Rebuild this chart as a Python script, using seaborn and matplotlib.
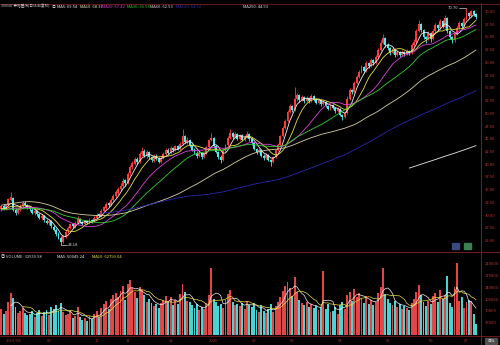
import numpy as np
import pandas as pd
import matplotlib
matplotlib.use("Agg")
import matplotlib.pyplot as plt
import matplotlib.transforms as mtrans
from matplotlib.lines import Line2D
from matplotlib.patches import Rectangle
import seaborn as sns

# ---------------- data ----------------
# closes before the visible window (only used for the moving averages)
hist_closes = [27.2, 26.8, 27.5, 27.9, 27.4, 26.9, 26.5, 27.1, 27.6, 28.2,
               27.8, 27.3, 26.9, 27.4, 28.0, 28.5, 28.1, 27.6, 27.2, 26.8,
               27.3, 27.9, 28.4, 28.0, 27.5, 27.1, 27.6, 28.2,
               29.5, 30.4, 31.2, 32.0, 32.9, 33.6, 34.4, 35.1, 35.8, 36.4,
               37.0, 37.5, 37.9, 38.2, 38.0, 37.6, 37.0, 36.3, 35.5, 34.7, 33.9,
               33.2, 32.6, 32.1, 31.7, 31.4, 31.2, 31.0, 30.8, 30.9, 31.1,
               30.8, 30.6, 30.9, 31.2, 31.0, 30.7, 30.9, 31.3, 31.1, 30.8,
               31.0, 31.4, 31.2, 30.9, 31.1, 31.5, 31.3, 31.0, 31.3]

opens = [31.2, 31.9, 31.3, 32.1, 33.0, 33.4, 31.1, 30.5, 31.1, 31.8,
         32.5, 32.0, 31.7, 31.1, 30.5, 30.9, 30.3, 29.5, 29.9, 29.0,
         28.5, 28.9, 27.8, 27.2, 26.3, 25.5, 24.9, 25.8, 26.9, 27.5,
         28.4, 27.8, 28.5, 29.3, 28.8, 28.3, 28.9, 28.5, 29.2, 28.8,
         29.6, 30.3, 30.0, 30.9, 31.5, 32.4, 32.0, 33.0, 33.8, 34.5,
         35.2, 35.8, 36.9, 36.4, 38.3, 39.5, 40.2, 41.2, 40.6, 42.0,
         42.7, 41.7, 42.5, 41.5, 40.8, 41.8, 41.2, 40.6, 41.4, 42.0,
         42.9, 42.3, 43.3, 42.8, 43.6, 43.1, 44.1, 45.7, 44.5, 44.8,
         43.8, 42.9, 42.3, 41.8, 42.3, 41.6, 42.2, 43.4, 44.9, 45.2,
         43.6, 42.5, 41.6, 41.0, 42.6, 43.8, 45.2, 46.3, 45.4, 46.0,
         45.1, 45.8, 44.9, 45.5, 46.1, 45.0, 44.2, 43.1, 42.4, 42.9,
         41.8, 41.3, 41.9, 41.0, 40.6, 41.5, 42.8, 43.9, 45.6, 47.3,
         48.6, 50.4, 51.5, 50.8, 52.9, 53.6, 52.8, 53.3, 52.5, 53.1,
         52.6, 53.4, 52.9, 52.2, 52.7, 51.9, 52.4, 51.6, 51.0, 51.7,
         51.2, 50.5, 50.9, 49.8, 49.3, 50.1, 53.0, 54.6, 54.2, 56.0,
         57.2, 58.3, 59.2, 58.5, 60.0, 59.4, 60.5, 60.0, 61.2, 62.6,
         64.0, 64.8, 63.6, 62.9, 62.0, 62.8, 61.6, 62.2, 61.5, 62.1,
         61.8, 62.4, 62.0, 63.5, 64.2, 66.3, 67.6, 66.5, 65.0, 64.6,
         65.9, 64.6, 66.3, 67.5, 66.8, 68.2, 67.1, 68.9, 66.2, 65.0,
         64.4, 65.6, 66.9, 67.8, 67.2, 68.6, 69.8, 69.2, 70.1, 69.6]

highs = [32.1, 32.2, 32.3, 33.5, 34.6, 33.6, 31.5, 31.5, 32.2, 32.9,
         32.8, 32.3, 31.9, 31.4, 31.2, 31.1, 30.5, 30.3, 30.1, 29.4,
         29.3, 29.1, 28.1, 27.5, 26.7, 25.9, 26.2, 27.1, 27.9, 28.6,
         28.6, 28.9, 30.0, 29.5, 29.0, 29.2, 29.1, 29.5, 29.4, 29.9,
         30.5, 30.6, 31.2, 31.9, 32.6, 32.7, 33.4, 34.2, 35.0, 35.6,
         36.3, 37.4, 37.2, 38.6, 40.0, 40.8, 41.6, 41.5, 42.4, 43.5,
         43.0, 42.8, 42.7, 41.8, 42.0, 42.1, 41.5, 41.7, 42.4, 43.3,
         43.2, 43.6, 43.5, 43.9, 43.8, 44.4, 47.0, 45.9, 45.4, 45.0,
         44.0, 43.2, 42.6, 42.6, 42.5, 42.5, 43.7, 45.1, 46.3, 45.4,
         43.8, 42.7, 41.9, 42.9, 44.1, 45.6, 47.0, 46.5, 46.4, 46.2,
         46.1, 46.0, 45.8, 46.6, 46.3, 45.2, 44.4, 43.3, 43.2, 43.1,
         42.0, 42.2, 42.1, 41.2, 41.8, 43.1, 44.2, 45.9, 47.6, 48.9,
         50.7, 51.9, 51.8, 55.3, 54.1, 53.9, 53.7, 53.5, 53.5, 53.3,
         53.8, 53.6, 53.1, 53.1, 52.9, 52.8, 52.6, 51.8, 52.0, 51.9,
         51.4, 51.3, 51.1, 50.0, 50.4, 53.4, 55.0, 54.9, 56.4, 57.6,
         58.7, 59.6, 59.4, 60.4, 60.2, 60.9, 60.7, 61.6, 63.0, 64.5,
         65.6, 65.0, 63.9, 63.1, 63.2, 63.0, 62.6, 62.4, 62.5, 62.3,
         62.8, 62.6, 63.9, 64.6, 66.7, 68.4, 67.9, 66.7, 65.2, 66.3,
         66.0, 66.7, 67.9, 67.7, 68.6, 68.4, 69.4, 69.1, 66.4, 65.2,
         65.9, 67.2, 68.2, 68.0, 69.0, 70.7, 70.0, 70.4, 70.3, 69.8]

lows = [30.9, 31.1, 31.1, 31.9, 32.8, 30.8, 30.2, 30.3, 30.9, 31.6,
        31.8, 31.3, 30.9, 30.3, 30.2, 30.0, 29.3, 29.2, 28.8, 28.3,
        28.2, 27.6, 26.9, 26.0, 25.3, 24.18, 24.7, 25.6, 26.6, 27.3,
        27.6, 27.6, 28.3, 28.5, 28.1, 28.1, 28.3, 28.3, 28.6, 28.7,
        29.4, 29.7, 29.8, 30.7, 31.3, 31.7, 31.8, 32.8, 33.5, 34.2,
        34.9, 35.6, 35.9, 36.2, 38.0, 39.2, 39.9, 40.1, 40.3, 41.7,
        41.5, 41.4, 41.2, 40.5, 40.6, 40.9, 40.3, 40.4, 41.1, 41.8,
        42.0, 42.1, 42.5, 42.6, 42.8, 42.9, 43.9, 44.2, 44.1, 43.5,
        42.6, 42.0, 41.4, 41.5, 41.2, 41.3, 42.0, 43.2, 44.6, 43.3,
        42.2, 41.2, 40.4, 40.8, 42.4, 43.6, 45.0, 45.1, 45.2, 44.8,
        44.9, 44.6, 44.7, 45.3, 44.7, 43.9, 42.8, 42.1, 42.2, 41.5,
        40.9, 41.1, 40.7, 39.8, 40.4, 41.3, 42.6, 43.7, 45.4, 47.1,
        48.4, 50.1, 50.4, 50.6, 52.6, 52.4, 52.6, 52.2, 52.3, 52.2,
        52.4, 52.6, 51.9, 52.0, 51.6, 51.7, 51.3, 50.7, 50.8, 50.9,
        50.2, 50.3, 49.5, 48.8, 49.1, 49.9, 52.8, 53.8, 54.0, 55.8,
        57.0, 58.1, 58.1, 58.3, 59.0, 59.2, 59.6, 59.8, 61.0, 62.4,
        63.8, 63.2, 62.5, 61.6, 61.8, 61.2, 61.4, 61.1, 61.3, 61.4,
        61.6, 61.6, 61.8, 63.3, 64.0, 66.1, 66.1, 64.6, 64.0, 64.4,
        64.2, 64.4, 66.1, 66.4, 66.6, 66.8, 66.9, 65.9, 64.6, 64.0,
        64.2, 65.4, 66.7, 66.9, 67.0, 68.4, 68.8, 69.0, 69.3, 68.7]

closes = [31.8, 31.4, 32.0, 33.2, 33.6, 31.0, 30.6, 31.2, 31.9, 32.4,
          32.0, 31.6, 31.2, 30.6, 30.9, 30.3, 29.6, 29.9, 29.1, 28.6,
          28.9, 27.9, 27.2, 26.3, 25.6, 24.8, 25.9, 26.8, 27.6, 28.3,
          27.9, 28.6, 29.4, 28.8, 28.4, 28.9, 28.6, 29.2, 28.9, 29.6,
          30.2, 30.0, 30.9, 31.6, 32.3, 32.0, 33.1, 33.8, 34.6, 35.2,
          35.9, 36.8, 36.3, 38.2, 39.6, 40.3, 41.1, 40.5, 42.0, 42.6,
          41.8, 42.4, 41.5, 40.9, 41.7, 41.2, 40.6, 41.4, 42.1, 42.9,
          42.3, 43.2, 42.8, 43.6, 43.1, 44.0, 45.6, 44.5, 44.9, 43.8,
          42.9, 42.4, 41.8, 42.3, 41.6, 42.2, 43.4, 44.8, 45.3, 43.6,
          42.5, 41.6, 41.0, 42.6, 43.8, 45.2, 46.3, 45.4, 46.0, 45.1,
          45.8, 44.9, 45.5, 46.1, 45.0, 44.2, 43.1, 42.4, 42.9, 41.8,
          41.3, 41.9, 41.0, 40.6, 41.5, 42.8, 43.9, 45.6, 47.3, 48.6,
          50.4, 51.5, 50.8, 52.9, 53.6, 52.8, 53.3, 52.5, 53.1, 52.6,
          53.4, 52.9, 52.2, 52.7, 51.9, 52.4, 51.6, 51.0, 51.7, 51.2,
          50.5, 50.9, 49.8, 49.3, 50.1, 53.0, 54.6, 54.2, 56.0, 57.2,
          58.3, 59.2, 58.5, 60.0, 59.4, 60.5, 60.0, 61.2, 62.6, 64.0,
          64.8, 63.6, 62.9, 62.0, 62.8, 61.6, 62.2, 61.5, 62.1, 61.8,
          62.4, 62.0, 63.5, 64.2, 66.3, 67.6, 66.5, 65.0, 64.6, 65.9,
          64.6, 66.3, 67.5, 66.8, 68.2, 67.1, 68.9, 66.2, 65.0, 64.4,
          65.6, 66.9, 67.8, 67.2, 68.6, 69.8, 69.2, 70.1, 69.6, 69.0]

volumes = [78000, 62000, 71000, 98000, 125000, 110000, 84000, 66000, 72000, 80000,
           64000, 58000, 61000, 70000, 52000, 66000, 74000, 55000, 68000, 73000,
           59000, 82000, 76000, 88000, 71000, 95000, 67000, 58000, 63000, 72000,
           49000, 56000, 84000, 52000, 45000, 50000, 41000, 57000, 46000, 62000,
           70000, 54000, 79000, 92000, 101000, 76000, 108000, 118000, 124000, 112000,
           131000, 146000, 104000, 152000, 163000, 138000, 127000, 109000, 141000, 133000,
           118000, 99000, 106000, 94000, 87000, 92000, 81000, 96000, 103000, 117000,
           98000, 112000, 89000, 105000, 93000, 121000, 150000, 129000, 102000, 97000,
           88000, 79000, 91000, 73000, 84000, 77000, 95000, 119000, 200000, 108000,
           99000, 86000, 92000, 81000, 104000, 122000, 134000, 97000, 89000, 93000,
           87000, 95000, 78000, 101000, 90000, 83000, 96000, 74000, 69000, 88000,
           71000, 64000, 76000, 92000, 68000, 85000, 97000, 112000, 131000, 144000,
           156000, 138000, 117000, 172000, 128000, 104000, 96000, 88000, 99000, 83000,
           91000, 79000, 86000, 74000, 82000, 190000, 77000, 93000, 68000, 72000,
           84000, 63000, 88000, 97000, 76000, 118000, 129000, 102000, 137000, 112000,
           124000, 109000, 96000, 116000, 92000, 104000, 88000, 99000, 126000, 141000,
           200000, 122000, 108000, 96000, 89000, 101000, 84000, 92000, 78000, 86000,
           81000, 73000, 95000, 106000, 128000, 147000, 119000, 98000, 87000, 102000,
           93000, 115000, 124000, 98000, 132000, 107000, 120000, 175000, 96000, 84000,
           142000, 215000, 102000, 112000, 79000, 98000, 104000, 101000, 62000, 32559.98]

date_labels = ["2019/08", "09", "10", "11", "12", "2020", "02", "03", "04", "05", "06", "07"]
date_positions = [2, 20, 40, 53, 71, 89, 106, 122, 142, 162, 180, 195]

price_ticks = [25.0, 27.5, 30.0, 32.5, 35.0, 37.5, 40.0, 42.5, 45.0, 47.5,
               50.0, 52.5, 55.0, 57.5, 60.0, 62.5, 65.0, 67.5, 70.0]
volume_ticks = [35000, 70000, 105000, 140000, 175000, 210000]

ma_periods = [5, 10, 20, 30, 60, 120, 250]
ma_colors = ["#f0f0f0", "#e8e040", "#e040e0", "#30d030", "#d8d0a0", "#2828b0", "#e8e8e8"]

# ---------------- style ----------------
sns.set_theme(style="dark", rc={"axes.facecolor": "black", "figure.facecolor": "black"})
plt.rcParams["font.family"] = ["Noto Sans CJK SC", "DejaVu Sans"]

W, H = 500, 345
fig = plt.figure(figsize=(W / 100, H / 100), dpi=100, facecolor="black")


def fx(px):
    return px / W


def fy(py):
    return 1 - py / H


AX_R = 480
ax_p = fig.add_axes([0, fy(250), fx(AX_R), (250 - 4) / H])
ax_v = fig.add_axes([0, fy(335), fx(AX_R), (335 - 254) / H])
for ax in (ax_p, ax_v):
    ax.set_facecolor("black")
    for s in ax.spines.values():
        s.set_visible(False)
    ax.set_xticks([])
    ax.set_yticks([])
    ax.grid(False)

n = len(closes)
idx = np.arange(n)
o = np.array(opens)
h = np.array(highs)
l = np.array(lows)
c = np.array(closes)
up = c >= o
UP_C = "#ff3a3a"
DN_C = "#50ecec"
cols = np.where(up, UP_C, DN_C)

# candles
ax_p.vlines(idx, l, h, colors=cols, linewidth=0.6)
body = np.maximum(np.abs(c - o), 0.08)
ax_p.bar(idx, body, bottom=np.minimum(o, c), width=0.8, color=cols, linewidth=0)

# moving averages
all_closes = pd.Series(hist_closes + closes)
off = len(hist_closes)
for p, col in zip(ma_periods, ma_colors):
    ma = all_closes.rolling(p).mean().iloc[off:].to_numpy()
    sns.lineplot(x=idx, y=ma, ax=ax_p, color=col, linewidth=0.6, legend=False)

ma120_last = all_closes.rolling(120).mean().iloc[-1]

xl = (-0.503, 200.67)
ax_p.set_xlim(*xl)
per_px = 45 / 229
ax_p.set_ylim(25 - 9 * per_px, 70 + 8 * per_px)

# price labels (right side)
tr_p = mtrans.blended_transform_factory(ax_p.transAxes, ax_p.transData)
LBL_C = "#b83838"
for t in price_ticks:
    ax_p.text(485 / AX_R, t, f"{t:.2f}", transform=tr_p, color=LBL_C, fontsize=3.0,
              va="center", ha="left", clip_on=False)

# extreme annotations
ax_p.plot([25.2, 27.6], [24.18, 24.18], color="#d0d0d0", lw=0.5)
ax_p.text(27.9, 24.18, "24.18", color="#d8d8d8", fontsize=3.0, va="center", ha="left")
ax_p.plot([192.0, 194.8], [70.7, 70.7], color="#d0d0d0", lw=0.5)
ax_p.text(191.7, 70.7, "70.70", color="#d8d8d8", fontsize=3.0, va="center", ha="right")

# volume
v = np.array(volumes)
vcols = np.where(up, "#e04848", "#48d4d4")
ax_v.bar(idx, v, width=0.8, color=vcols, linewidth=0)
vs = pd.Series(volumes)
sns.lineplot(x=idx, y=vs.rolling(5).mean().to_numpy(), ax=ax_v, color="#f0f0f0", linewidth=0.5, legend=False)
sns.lineplot(x=idx, y=vs.rolling(10).mean().to_numpy(), ax=ax_v, color="#e8e040", linewidth=0.5, legend=False)
ax_v.set_xlim(*xl)
vper = 175000 / 59
ax_v.set_ylim(0, 81 * vper)
tr_v = mtrans.blended_transform_factory(ax_v.transAxes, ax_v.transData)
for t in volume_ticks:
    ax_v.text(485 / AX_R, t, f"{t}", transform=tr_v, color=LBL_C, fontsize=3.0,
              va="center", ha="left", clip_on=False)

# date labels
for pos, lab in zip(date_positions, date_labels):
    xpx = (pos - xl[0]) / (xl[1] - xl[0]) * AX_R
    fig.text(fx(xpx), fy(340.5), lab, color="#a83030", fontsize=3.0,
             ha="left" if pos == date_positions[0] else "center", va="center")

# frame lines
FR = "#7a1c1c"
fig.add_artist(Line2D([fx(AX_R + 0.5), fx(AX_R + 0.5)], [fy(3), fy(345)], color=FR, lw=0.7))
fig.add_artist(Line2D([0, 1], [fy(3.5), fy(3.5)], color=FR, lw=0.6))
fig.add_artist(Line2D([0, 1], [fy(252), fy(252)], color=FR, lw=0.7))
fig.add_artist(Line2D([0, 1], [fy(335.5), fy(335.5)], color=FR, lw=0.6))

# header texts
hdr_y = fy(6.5)
header = [(1, "300347 泰格医药(日线 前复权)", "#c8c8c8", 2.6),
          (52, "◎", "#c8c8c8", 2.8),
          (57, "MA5: 69.54", "#e8e8e8", 3.0),
          (80, "MA10: 68.37", "#e8e8c8", 3.0),
          (102, "MA20: 67.42", "#d040d0", 3.0),
          (127, "MA30: 66.58", "#30c030", 3.0),
          (150, "MA60: 62.53", "#d8d8d8", 3.0),
          (176, f"MA120: {ma120_last:.2f}", "#3030b0", 3.0),
          (243, "MA250: 44.53", "#e0e0e0", 3.0)]
for xp, s, col, fs in header:
    fig.text(fx(xp), hdr_y, s, color=col, fontsize=fs, ha="left", va="center")

vhdr_y = fy(257)
vheader = [(1, "◎ VOLUME: 32559.98", "#d8d8d8"),
           (57, "MA5: 50049.24", "#e8e8e8"),
           (92, "MA10: 62799.04", "#e8e040")]
for xp, s, col in vheader:
    fig.text(fx(xp), vhdr_y, s, color=col, fontsize=3.0, ha="left", va="center")

# small icons bottom-right of price panel
fig.add_artist(Rectangle((fx(452), fy(249)), fx(7), 6 / H, color="#3a4a80", transform=fig.transFigure))
fig.add_artist(Rectangle((fx(464), fy(249)), fx(7), 6 / H, color="#3a8050", transform=fig.transFigure))
fig.add_artist(Rectangle((fx(485), fy(344)), fx(12), 6 / H, color="#505050", transform=fig.transFigure))
fig.text(fx(491), fy(341), "日线", color="#e0e0e0", fontsize=2.6, ha="center", va="center")

fig.savefig("out.png", dpi=100, facecolor="black")
